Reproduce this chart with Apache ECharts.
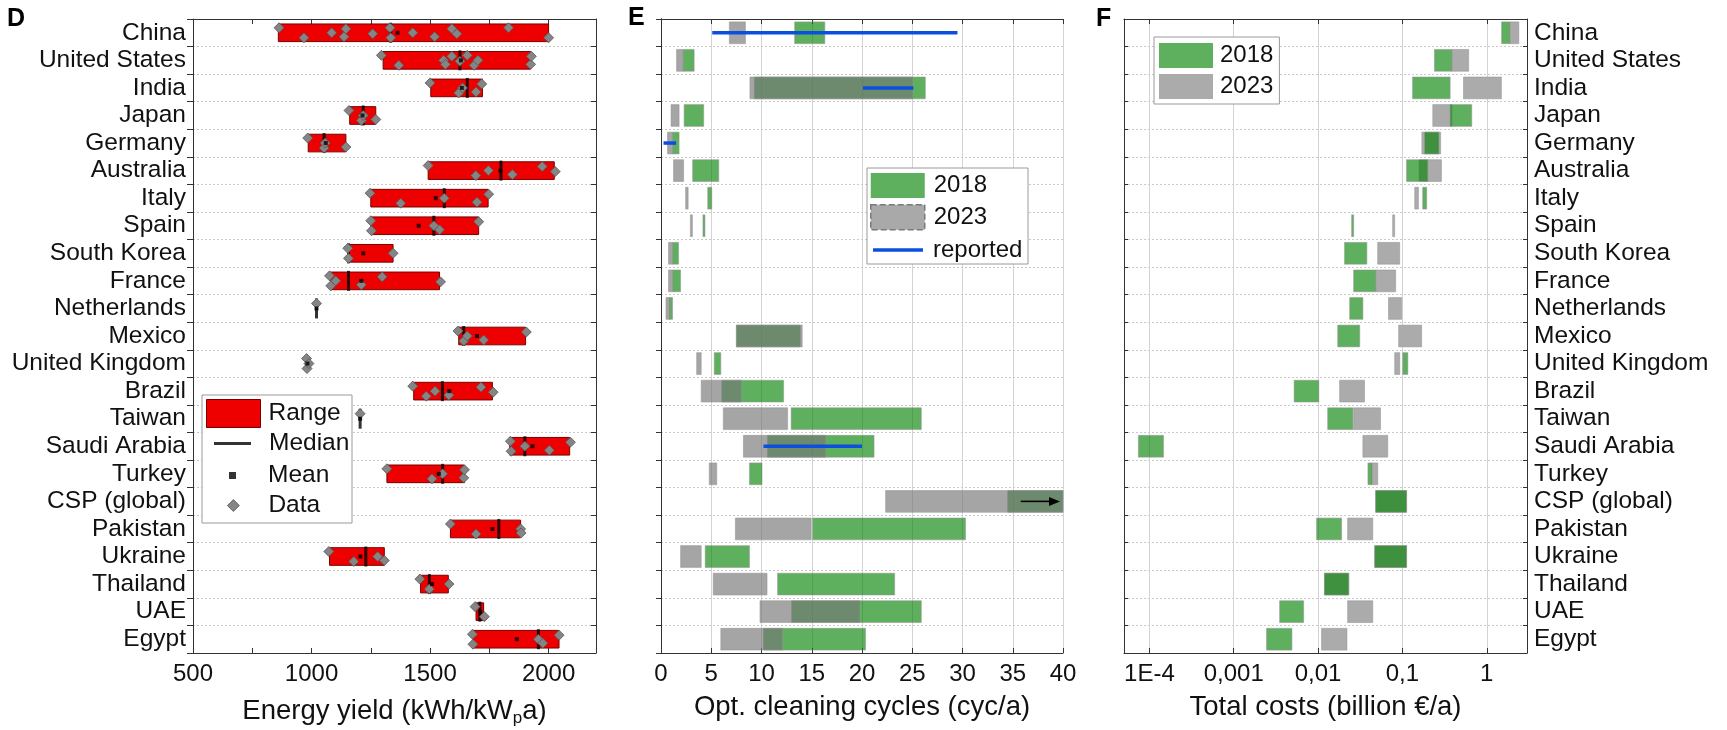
<!DOCTYPE html>
<html><head><meta charset="utf-8">
<script src="https://cdn.jsdelivr.net/npm/echarts@6/dist/echarts.min.js"></script>
<style>html,body{margin:0;padding:0;background:#fff}#c{width:1727px;height:730px}</style>
</head><body><div id="c"></div>
<script>
// ---------- categories ----------
const countries = ['China','United States','India','Japan','Germany','Australia','Italy','Spain','South Korea','France','Netherlands','Mexico','United Kingdom','Brazil','Taiwan','Saudi Arabia','Turkey','CSP (global)','Pakistan','Ukraine','Thailand','UAE','Egypt'];

// ---------- panel D: energy yield (kWh/kWp a) ----------
const yieldMin    = [860,1302,1503,1161,986,1492,1250,1250,1156,1081,null,1621,null,1431,null,1836,1318,null,1586,1076,1460,1694,1682];
const yieldMax    = [2000,1924,1721,1271,1145,2024,1745,1705,1344,1540,null,1903,null,1763,null,2089,1645,null,1882,1307,1577,1726,2044];
const yieldMedian = [1334,1626,1657,1218,1053,1799,1560,1516,1156,1156,1021,1642,null,1552,1205,1900,1553,null,1790,1229,1497,1710,1957];
const yieldMean   = [1363,1630,1634,1215,1060,1797,1524,1452,1218,1210,1021,1698,983,1581,1205,1932,1537,null,1763,1206,1508,1712,1866];
const yieldData = [
  [863,968,1085,1137,1145,1258,1331,1334,1427,1519,1592,1613,1831,2000],
  [1295,1368,1557,1565,1592,1626,1657,1686,1702,1924,1927],
  [1500,1621,1637,1694,1718],
  [1158,1210,1218,1271],
  [984,1053,1058,1145],
  [1492,1693,1746,1847,1973,2028],
  [1247,1376,1560,1698,1747],
  [1250,1253,1516,1540,1705],
  [1153,1156,1344],
  [1076,1081,1102,1210,1298,1544],
  [1021],
  [1618,1642,1657,1726,1906],
  [979,981,989],
  [1427,1484,1521,1579,1715,1766],
  [1205],
  [1839,1842,1900,2003,2092],
  [1318,1508,1553,1642,1645],
  [],
  [1586,1694,1882,1884],
  [1073,1178,1279,1307],
  [1457,1497,1580],
  [1690,1729],
  [1679,1681,1957,1976,2044]
];

// ---------- panel E: optimal cleaning cycles (cyc/a) ----------
const cycles2018 = [[13.3,16.3],[2.2,3.3],[9.3,26.3],[2.3,4.25],[1.15,1.8],[3.15,5.75],[4.65,5.05],[4.2,4.35],[1.15,1.75],[1.15,1.95],[0.85,1.15],[7.5,13.85],[5.3,5.95],[6.05,12.2],[12.95,25.9],[10.6,21.2],[8.8,10.05],[34.5,40],[15.1,30.3],[4.4,8.8],[11.6,23.25],[13.0,25.9],[10.2,20.35]];
const cycles2023 = [[6.8,8.4],[1.55,2.2],[8.85,25.05],[1.0,1.8],[0.65,1.15],[1.25,2.25],[2.45,2.7],[2.95,3.1],[0.75,1.15],[0.75,1.15],[0.5,0.9],[7.5,14.05],[3.55,4.0],[4.0,8.0],[6.2,12.6],[8.2,16.4],[4.8,5.55],[22.35,40],[7.4,14.95],[1.95,4.0],[5.2,10.55],[9.85,19.8],[5.95,12.1]];
const cyclesReported = [[5.1,29.5],null,[20.1,25.1],null,[0.25,1.5],null,null,null,null,null,null,null,null,null,null,[10.2,20.0],null,null,null,null,null,null,null];
const cyclesArrow = [null,null,null,null,null,null,null,null,null,null,null,null,null,null,null,null,null,[35.8,39.7],null,null,null,null,null];
const cycleTicks = [0,5,10,15,20,25,30,35,40];

// ---------- panel F: total costs (billion EUR/a) ----------
const cost2018 = [[1.5,1.88],[0.24,0.385],[0.132,0.368],[0.368,0.664],[0.183,0.271],[0.112,0.2],[0.174,0.194],[0.0254,0.026],[0.0206,0.0379],[0.0264,0.0482],[0.0237,0.034],[0.0171,0.0312],[0.101,0.116],[0.0052,0.0102],[0.013,0.0259],[0.000074,0.000147],[0.039,0.0435],[0.0482,0.112],[0.0096,0.019],[0.047,0.112],[0.0119,0.0231],[0.0035,0.00675],[0.00245,0.0049]];
const cost2023 = [[1.88,2.4],[0.385,0.61],[0.53,1.49],[0.229,0.385],[0.17,0.284],[0.158,0.29],[0.14,0.155],[0.078,0.0795],[0.0509,0.0929],[0.0482,0.0832],[0.0684,0.098],[0.0903,0.169],[0.081,0.093],[0.018,0.0355],[0.0264,0.055],[0.034,0.067],[0.0433,0.051],[0.0482,0.112],[0.0224,0.0445],[0.047,0.112],[0.0119,0.0231],[0.0224,0.0445],[0.011,0.022]];
const costTickLabels = ['1E-4','0,001','0,01','0,1','1']; // for 10^-4 ... 10^0

// ---------- helpers ----------
const FONT = '"Liberation Sans", Arial, Helvetica, sans-serif';
const INK = '#111';
const AX = '#333';
const jitter = [-5, 5, 0, 4, -4, 1];

function rangeItems(arr) {
  const out = [];
  arr.forEach((r, i) => { if (r) out.push([r[0], r[1], i]); });
  return out;
}
function pairItems(lo, hi) {
  const out = [];
  lo.forEach((v, i) => { if (v != null && hi[i] != null) out.push([v, hi[i], i]); });
  return out;
}
function pointItems(arr) {
  const out = [];
  arr.forEach((v, i) => { if (v != null) out.push([v, i]); });
  return out;
}
function rangeBar(style, frac, minW) {
  return function (params, api) {
    const i = api.value(2);
    const a = api.coord([api.value(0), i]);
    const b = api.coord([api.value(1), i]);
    const h = api.size([0, 1], [api.value(0), i])[1] * frac;
    let x = Math.min(a[0], b[0]), w = Math.abs(b[0] - a[0]);
    if (w < minW) { x -= (minW - w) / 2; w = minW; }
    return { type: 'rect', shape: { x: x, y: a[1] - h / 2, width: w, height: h }, style: style };
  };
}
function hLine(style) {
  return function (params, api) {
    const i = api.value(2);
    const a = api.coord([api.value(0), i]);
    const b = api.coord([api.value(1), i]);
    return { type: 'line', shape: { x1: a[0], y1: a[1], x2: b[0], y2: b[1] }, style: style };
  };
}
function arrowShape(params, api) {
  const i = api.value(2);
  const a = api.coord([api.value(0), i]);
  const b = api.coord([api.value(1), i]);
  return { type: 'group', children: [
    { type: 'line', shape: { x1: a[0], y1: a[1], x2: b[0] - 9, y2: b[1] }, style: { stroke: '#000', lineWidth: 1.6 } },
    { type: 'polygon', shape: { points: [[b[0], b[1]], [b[0] - 11, b[1] - 4.5], [b[0] - 11, b[1] + 4.5]] }, style: { fill: '#000' } }
  ]};
}
const dataPts = [];
yieldData.forEach((list, i) => {
  list.forEach((v, k) => dataPts.push({ value: [v, i], symbolOffset: [0, jitter[k % jitter.length]] }));
});

const GREEN = 'rgba(0,128,0,0.63)';
const GRAY_E = 'rgba(118,118,118,0.66)';
const GRAY_F = '#ababab';
const BLUE = '#0b4fe0';
const EDGE = 'rgba(150,150,150,0.55)';

function catAxis(grid, pos, showLabel, tickInside, tickLen) {
  return {
    type: 'category', gridIndex: grid, data: countries, inverse: true, position: pos,
    axisLine: { show: true, lineStyle: { color: AX, width: 1 } },
    axisTick: { show: true, inside: tickInside, length: tickLen, interval: 0, lineStyle: { color: AX } },
    axisLabel: { show: showLabel, interval: 0, fontSize: 24.5, color: INK, fontFamily: FONT, margin: 7 },
    splitLine: { show: pos === 'left', interval: 0, lineStyle: { color: '#c9c9c9', type: [2, 2], width: 1 } }
  };
}
const labelStyle = { fontSize: 24, color: INK, fontFamily: FONT, margin: 9 };
const nameStyle = { fontSize: 27.5, color: INK, fontFamily: FONT };
const letterStyle = { fill: '#000', font: 'bold 25px "Liberation Sans", Arial, sans-serif' };

const option = {
  animation: false,
  backgroundColor: '#fff',
  textStyle: { fontFamily: FONT },
  grid: [
    { left: 193, top: 19, width: 403, height: 634, outerBoundsMode: 'none', containLabel: false },
    { left: 661, top: 19, width: 402, height: 634, outerBoundsMode: 'none', containLabel: false },
    { left: 1124, top: 19, width: 403, height: 634, outerBoundsMode: 'none', containLabel: false }
  ],
  xAxis: [
    { type: 'value', gridIndex: 0, position: 'bottom', min: 500, max: 2200, interval: 250,
      axisLine: { show: true, lineStyle: { color: AX } },
      axisTick: { show: true, inside: true, length: 5, lineStyle: { color: AX } },
      axisLabel: Object.assign({}, labelStyle, { formatter: v => (v % 500 === 0 ? String(v) : '') }),
      splitLine: { show: false },
      name: '{a|Energy yield (kWh/kW}{s|p}{a|a)}', nameLocation: 'middle', nameGap: 42, nameMoveOverlap: false,
      nameTextStyle: { rich: { a: { fontSize: 27.5, lineHeight: 32, color: INK, fontFamily: FONT }, s: { fontSize: 17, lineHeight: 11, verticalAlign: 'bottom', color: INK, fontFamily: FONT } } } },
    { type: 'value', gridIndex: 0, position: 'top', min: 500, max: 2200, interval: 250,
      axisLine: { show: true, lineStyle: { color: AX } },
      axisTick: { show: true, inside: true, length: 5, lineStyle: { color: AX } },
      axisLabel: { show: false }, splitLine: { show: false } },
    { type: 'value', gridIndex: 1, position: 'bottom', min: cycleTicks[0], max: cycleTicks[cycleTicks.length - 1], interval: cycleTicks[1] - cycleTicks[0],
      axisLine: { show: true, lineStyle: { color: AX } },
      axisTick: { show: true, inside: true, length: 5, lineStyle: { color: AX } },
      axisLabel: labelStyle,
      splitLine: { show: true, lineStyle: { color: '#d3d3d3', width: 1 } },
      name: 'Opt. cleaning cycles (cyc/a)', nameLocation: 'middle', nameGap: 40, nameMoveOverlap: false, nameTextStyle: nameStyle },
    { type: 'value', gridIndex: 1, position: 'top', min: 0, max: 40, interval: 5,
      axisLine: { show: true, lineStyle: { color: AX } },
      axisTick: { show: true, inside: true, length: 5, lineStyle: { color: AX } },
      axisLabel: { show: false }, splitLine: { show: false } },
    { type: 'log', logBase: 10, gridIndex: 2, position: 'bottom', min: 0.00005, max: 3,
      axisLine: { show: true, lineStyle: { color: AX } },
      axisTick: { show: true, inside: true, length: 5, lineStyle: { color: AX } },
      axisLabel: Object.assign({}, labelStyle, { formatter: v => {
        const e = Math.log10(v), r = Math.round(e);
        if (Math.abs(e - r) > 1e-6) return '';
        const idx = r + 4;
        return idx >= 0 && idx < costTickLabels.length ? costTickLabels[idx] : '';
      } }),
      splitLine: { show: true, lineStyle: { color: '#d3d3d3', width: 1 } },
      name: 'Total costs (billion €/a)', nameLocation: 'middle', nameGap: 40, nameMoveOverlap: false, nameTextStyle: nameStyle },
    { type: 'log', logBase: 10, gridIndex: 2, position: 'top', min: 0.00005, max: 3,
      axisLine: { show: true, lineStyle: { color: AX } },
      axisTick: { show: true, inside: true, length: 5, lineStyle: { color: AX } },
      axisLabel: { show: false }, splitLine: { show: false } }
  ],
  yAxis: [
    catAxis(0, 'left', true, false, 6),
    catAxis(0, 'right', false, true, 5),
    catAxis(1, 'left', false, false, 3),
    catAxis(1, 'right', false, true, 5),
    catAxis(2, 'left', false, true, 4),
    catAxis(2, 'right', true, true, 4)
  ],
  legend: [
    { data: [{ name: 'Range', icon: 'rect', itemStyle: { color: '#ee0000', borderColor: '#7a0000', borderWidth: 1 } }],
      left: 206, top: 399, itemWidth: 54, itemHeight: 28, padding: 0, z: 6, selectedMode: false,
      textStyle: { fontSize: 24.5, color: INK, fontFamily: FONT, padding: [0, 0, 0, 3] } },
    { data: [{ name: 'Median', icon: 'rect', itemStyle: { color: '#000', borderWidth: 0 } }],
      left: 214, top: 431, itemWidth: 37, itemHeight: 3, padding: 0, z: 6, selectedMode: false,
      textStyle: { fontSize: 24.5, color: INK, fontFamily: FONT, padding: [0, 0, 0, 13] } },
    { data: [{ name: 'Mean', icon: 'rect', itemStyle: { color: '#000', borderWidth: 0 } }],
      left: 229, top: 463, itemWidth: 7, itemHeight: 7, padding: 0, z: 6, selectedMode: false,
      textStyle: { fontSize: 24.5, color: INK, fontFamily: FONT, padding: [0, 0, 0, 27] } },
    { data: [{ name: 'Data', icon: 'diamond', itemStyle: { color: '#858585', borderColor: '#555', borderWidth: 0.8 } }],
      left: 227, top: 493, itemWidth: 12, itemHeight: 12, padding: 0, z: 6, selectedMode: false,
      textStyle: { fontSize: 24.5, color: INK, fontFamily: FONT, padding: [0, 0, 0, 24] } },
    { data: [{ name: '2018', icon: 'rect', itemStyle: { color: '#5eaf5e', borderWidth: 0 } },
             { name: '2023', icon: 'rect', itemStyle: { color: '#a9a9a9', borderColor: '#7a7a7a', borderWidth: 1.5, borderType: 'dashed' } }],
      orient: 'vertical', left: 870, top: 173, itemWidth: 54, itemHeight: 25, itemGap: 6, padding: 0, z: 6, selectedMode: false,
      textStyle: { fontSize: 24, color: INK, fontFamily: FONT, padding: [0, 0, 0, 4] } },
    { data: [{ name: 'reported', icon: 'rect', itemStyle: { color: BLUE, borderWidth: 0 } }],
      left: 873, top: 238, itemWidth: 50, itemHeight: 3.5, padding: 0, z: 6, selectedMode: false,
      textStyle: { fontSize: 24, color: INK, fontFamily: FONT, padding: [0, 0, 0, 5] } },
    { data: [{ name: '2018', icon: 'rect', itemStyle: { color: '#5eaf5e', borderWidth: 0 } },
             { name: '2023', icon: 'rect', itemStyle: { color: '#ababab', borderWidth: 0 } }],
      orient: 'vertical', left: 1154, top: 37, itemWidth: 54, itemHeight: 25, itemGap: 6, padding: [6, 6, 5, 5], z: 6, selectedMode: false,
      borderColor: '#9a9a9a', borderWidth: 1, backgroundColor: '#fff',
      textStyle: { fontSize: 24, color: INK, fontFamily: FONT, padding: [0, 0, 0, 2] } }
  ],
  graphic: [
    { type: 'rect', z: 5, shape: { x: 202, y: 395, width: 150, height: 128 }, style: { fill: '#fff', stroke: '#9a9a9a', lineWidth: 1 } },
    { type: 'rect', z: 5, shape: { x: 867, y: 168, width: 161, height: 96 }, style: { fill: '#fff', stroke: '#9a9a9a', lineWidth: 1 } },
    { type: 'text', z: 7, left: 7, top: 7, style: Object.assign({ text: 'D' }, letterStyle) },
    { type: 'text', z: 7, left: 628, top: 6, style: Object.assign({ text: 'E' }, letterStyle) },
    { type: 'text', z: 7, left: 1096, top: 7, style: Object.assign({ text: 'F' }, letterStyle) }
  ],
  series: [
    // ---- D ----
    { name: 'Range', type: 'custom', xAxisIndex: 0, yAxisIndex: 0, encode: { x: [0, 1], y: 2 },
      itemStyle: { color: '#ee0000' },
      data: pairItems(yieldMin, yieldMax),
      renderItem: rangeBar({ fill: '#ee0000', stroke: '#7a0000', lineWidth: 1 }, 0.64, 1) },
    { name: 'Median', type: 'scatter', xAxisIndex: 0, yAxisIndex: 0, symbol: 'rect', symbolSize: [3, 20],
      itemStyle: { color: '#000' }, data: pointItems(yieldMedian), z: 3 },
    { name: 'Data', type: 'scatter', xAxisIndex: 0, yAxisIndex: 0, symbol: 'diamond', symbolSize: [10, 10],
      itemStyle: { color: '#858585', borderColor: '#555', borderWidth: 0.8, opacity: 1 }, data: dataPts, z: 4 },
    { name: 'Mean', type: 'scatter', xAxisIndex: 0, yAxisIndex: 0, symbol: 'rect', symbolSize: [4, 4],
      itemStyle: { color: '#000' }, data: pointItems(yieldMean), z: 5 },
    // ---- E ----
    { name: '2018', type: 'custom', xAxisIndex: 2, yAxisIndex: 2, encode: { x: [0, 1], y: 2 },
      itemStyle: { color: GREEN }, data: rangeItems(cycles2018),
      renderItem: rangeBar({ fill: GREEN, stroke: EDGE, lineWidth: 1 }, 0.79, 2) },
    { name: '2023', type: 'custom', xAxisIndex: 2, yAxisIndex: 2, encode: { x: [0, 1], y: 2 },
      itemStyle: { color: GRAY_E }, data: rangeItems(cycles2023),
      renderItem: rangeBar({ fill: GRAY_E, stroke: EDGE, lineWidth: 1 }, 0.79, 2) },
    { name: 'reported', type: 'custom', xAxisIndex: 2, yAxisIndex: 2, encode: { x: [0, 1], y: 2 },
      itemStyle: { color: BLUE }, data: rangeItems(cyclesReported),
      renderItem: hLine({ stroke: BLUE, lineWidth: 3.5 }) },
    { name: 'arrow', type: 'custom', xAxisIndex: 2, yAxisIndex: 2, encode: { x: [0, 1], y: 2 },
      data: rangeItems(cyclesArrow), renderItem: arrowShape },
    // ---- F ----
    { name: '2023', type: 'custom', xAxisIndex: 4, yAxisIndex: 4, encode: { x: [0, 1], y: 2 },
      itemStyle: { color: GRAY_F }, data: rangeItems(cost2023),
      renderItem: rangeBar({ fill: GRAY_F, stroke: EDGE, lineWidth: 1 }, 0.79, 2) },
    { name: '2018', type: 'custom', xAxisIndex: 4, yAxisIndex: 4, encode: { x: [0, 1], y: 2 },
      itemStyle: { color: GREEN }, data: rangeItems(cost2018),
      renderItem: rangeBar({ fill: GREEN, stroke: EDGE, lineWidth: 1 }, 0.79, 2) }
  ]
};

const chart = echarts.init(document.getElementById('c'), null, { renderer: 'canvas' });
chart.setOption(option);
</script>
</body></html>
